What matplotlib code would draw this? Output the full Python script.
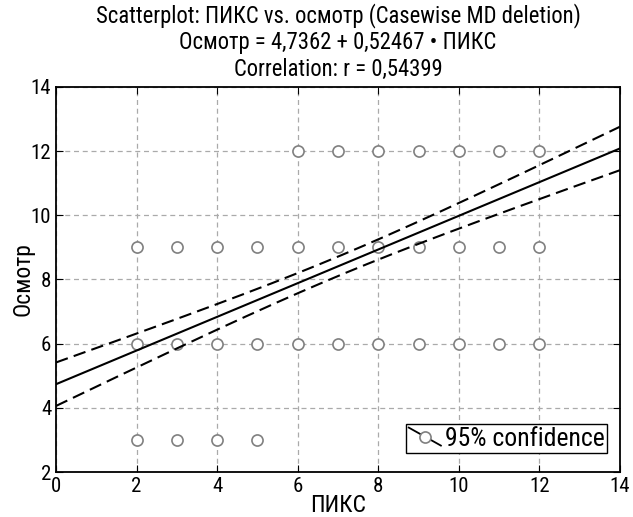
import numpy as np
from matplotlib import pyplot as plt
from matplotlib.lines import Line2D
from matplotlib.legend_handler import HandlerBase

# data
piks_12 = [6, 7, 8, 9, 10, 11, 12]
piks_9 = [2, 3, 4, 5, 6, 7, 8, 9, 10, 11, 12]
piks_6 = [2, 3, 4, 5, 6, 7, 8, 9, 10, 11, 12]
piks_3 = [2, 3, 4, 5]
intercept = 4.7362
slope = 0.52467
r = 0.54399
# sample stats estimated from the width of the 95% band (points overlap a lot)
n_cases = 340
mean_piks = 7.0
sd_piks = 3.5


class DiagHandler(HandlerBase):
    def create_artists(self, legend, orig, xd, yd, w, h, fs, trans):
        ln = Line2D([-xd, -xd + w], [-yd + h * 1.0, -yd + h * 0.0], color='black', lw=1.3)
        mk = Line2D([-xd + w * 0.5], [-yd + h / 2], marker='o', ms=8, mfc='white',
                    mec='#808080', mew=1.2, ls='none')
        ln.set_transform(trans)
        mk.set_transform(trans)
        return [ln, mk]


def main():
    plt.rcParams['font.family'] = ['Roboto Condensed', 'Liberation Sans', 'DejaVu Sans']
    fig = plt.figure(figsize=(6.33, 5.17), dpi=100)
    ax = fig.add_axes([0.0885, 0.087, 0.891, 0.745])

    x = np.array(piks_12 + piks_9 + piks_6 + piks_3, dtype=float)
    y = np.array([12] * len(piks_12) + [9] * len(piks_9) + [6] * len(piks_6) + [3] * len(piks_3), dtype=float)

    ax.plot(x, y, 'o', ms=8, mfc='white', mec='#808080', mew=1.2, zorder=3)

    # regression line and 95% band
    xs = np.linspace(0, 14, 200)
    fit = intercept + slope * xs
    sd_y = slope / r * sd_piks
    s = sd_y * np.sqrt(1 - r ** 2) * np.sqrt((n_cases - 1) / (n_cases - 2))
    sxx = (n_cases - 1) * sd_piks ** 2
    half = 1.967 * s * np.sqrt(1 / n_cases + (xs - mean_piks) ** 2 / sxx)
    ax.plot(xs, fit, color='black', lw=1.5, zorder=4)
    ax.plot(xs, fit + half, color='black', lw=1.5, ls=(0, (6, 3)), zorder=4)
    ax.plot(xs, fit - half, color='black', lw=1.5, ls=(0, (6, 3)), zorder=4)

    ax.set_xlim(0, 14)
    ax.set_ylim(2, 14)
    ax.set_xticks(range(0, 15, 2))
    ax.set_yticks(range(2, 15, 2))
    ax.grid(True, color='#aaaaaa', ls=(0, (4, 3)), lw=0.9)
    ax.tick_params(direction='in', top=True, right=True, labelsize=15, length=5)
    for sp in ax.spines.values():
        sp.set_linewidth(1.3)

    ax.set_xlabel('ПИКС', fontsize=17, labelpad=-1)
    ax.set_ylabel('Осмотр', fontsize=17, labelpad=-3)
    ax.set_title('Scatterplot: ПИКС vs. осмотр (Casewise MD deletion)\n'
                 'Осмотр = 4,7362 + 0,52467 • ПИКС\n'
                 'Correlation: r = 0,54399', fontsize=16.3, linespacing=1.2, pad=8)

    handle = Line2D([], [])
    leg = ax.legend([handle], ['95% confidence'], handler_map={Line2D: DiagHandler()},
                    loc='lower right', bbox_to_anchor=(0.977, 0.049), fontsize=18.5,
                    fancybox=False, framealpha=1, edgecolor='black', handlelength=1.25,
                    borderpad=0.1, handletextpad=0.15, borderaxespad=0)
    leg.get_frame().set_linewidth(1.0)

    fig.savefig('out.png')


if __name__ == '__main__':
    main()
